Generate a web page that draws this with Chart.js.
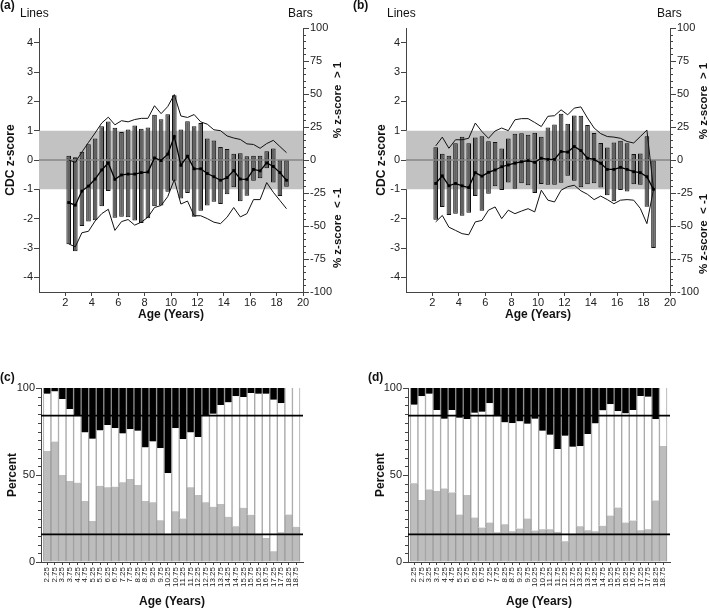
<!DOCTYPE html>
<html><head><meta charset="utf-8">
<script src="https://cdn.jsdelivr.net/npm/chart.js@4.4.0/dist/chart.umd.min.js"></script>
<style>
body{margin:0;width:709px;height:609px;background:#fff;position:relative;overflow:hidden;font-family:"Liberation Sans",Arial,sans-serif;color:#111}
canvas{position:absolute}
.lab{position:absolute;font-size:12px;line-height:14px;white-space:pre}
.b{font-weight:bold}
.rt{position:absolute;font-size:11.5px;font-weight:bold;line-height:13px;white-space:pre;transform:translate(-50%,-50%) rotate(-90deg)}
</style></head><body>
<canvas id="cA" width="354" height="322" style="left:0;top:0"></canvas>
<canvas id="cB" width="354" height="322" style="left:355px;top:0"></canvas>
<canvas id="cC" width="354" height="289" style="left:0;top:320px"></canvas>
<canvas id="cD" width="354" height="289" style="left:355px;top:320px"></canvas>

<div class="lab b" style="left:0;top:-2px">(a)</div>
<div class="lab" style="left:20px;top:6px">Lines</div>
<div class="lab" style="left:288px;top:6px">Bars</div>
<div class="rt" style="left:337px;top:100px">% z-score  &gt; 1</div>
<div class="rt" style="left:337px;top:228px">% z-score  &lt; -1</div>

<div class="lab b" style="left:353px;top:-2px">(b)</div>
<div class="lab" style="left:387px;top:6px">Lines</div>
<div class="lab" style="left:657px;top:6px">Bars</div>
<div class="rt" style="left:703px;top:101px">% z-score  &gt; 1</div>
<div class="rt" style="left:703px;top:234px">% z-score  &lt; -1</div>

<div class="lab b" style="left:0;top:370px">(c)</div>
<div class="lab b" style="left:368px;top:370px">(d)</div>

<script>
// ---------- data ----------
const ageLabels = ['2.25','2.75','3.25','3.75','4.25','4.75','5.25','5.75','6.25','6.75','7.25','7.75','8.25','8.75','9.25','9.75','10.25','10.75','11.25','11.75','12.25','12.75','13.25','13.75','14.25','14.75','15.25','15.75','16.25','16.75','17.25','17.75','18.25','18.75'];
const ages = ageLabels.map(Number);

// Sample (a)/(c): percent of children with z-score > 1 and < -1
const pctAboveA = [3.3,2,6.3,12,16.3,25.6,29.2,24.4,21.3,23.1,26.2,23.7,24.6,34.2,30.8,34.6,49,23.1,29.4,25.6,28.1,16.3,14.8,9.8,8.3,4.8,5.2,2.9,3.3,3.3,6.7,8.7,0,0];
const pctBelowA = [63.8,69.2,50,46.5,45.6,35,23.5,43.8,42.9,43.3,45.8,47.7,44.2,35,34.4,24,15.8,29.2,25,43,38.5,34.4,31.7,33.3,26,20.6,31.2,27.1,15.8,13.8,6.2,17.1,27.3,20.2];
// Sample (a): CDC z-score lines
const meanA  = [-1.45,-1.54,-1.06,-0.89,-0.65,-0.34,-0.10,-0.66,-0.51,-0.48,-0.48,-0.43,-0.41,0.07,-0.02,0.20,0.80,-0.18,0.13,-0.30,-0.30,-0.46,-0.57,-0.69,-0.60,-0.36,-0.65,-0.66,-0.32,-0.37,-0.10,-0.22,-0.43,-0.69];
const upperA = [0.0,-0.08,0.27,0.6,0.92,1.26,1.46,1.2,1.34,1.3,1.38,1.42,1.42,1.85,1.58,1.82,2.23,1.5,1.45,1.55,1.3,1.22,1.03,1.0,0.82,0.75,0.7,0.55,0.53,0.4,0.56,0.67,0.46,0.25];
const lowerA = [-2.86,-2.96,-2.48,-2.43,-2.08,-1.83,-1.68,-2.4,-2.1,-2.03,-2.22,-2.12,-1.95,-1.62,-1.55,-1.25,-0.67,-1.5,-1.4,-1.9,-1.9,-2.0,-2.12,-2.17,-1.95,-1.62,-1.94,-1.83,-1.35,-1.35,-0.77,-1.1,-1.38,-1.66];

// Sample (b)/(d)
const pctAboveB = [9.6,4.8,3.3,12.7,17.7,12.7,17.1,17.9,14.2,13.7,8.8,16.3,19.8,20.2,19.2,20.6,17.7,24.6,26.9,35,27.5,33.8,33.5,26.5,20.4,12.9,9.4,13.3,14.6,12.7,4.6,5,17.9,0];
const pctBelowB = [45.2,35.6,41.7,40.8,42.3,40,27.3,38.5,25.6,19.8,22.7,17.1,21.7,17.7,19.2,25,18.1,18.8,18.8,17.3,11.9,15.8,20.6,18.3,17.7,20.8,26.7,31.3,22.7,23.8,18.3,18.8,35.4,66.7];
const meanB  = [-0.8,-0.54,-0.88,-0.8,-0.88,-0.94,-0.43,-0.55,-0.42,-0.34,-0.23,-0.17,-0.11,-0.06,-0.02,-0.08,0.06,0.02,0.02,0.29,0.27,0.46,0.32,0.06,0.02,-0.11,-0.32,-0.32,-0.25,-0.32,-0.4,-0.43,-0.57,-1.0];
const upperB = [0.48,0.78,0.4,0.69,0.69,0.74,1.26,0.97,0.74,0.99,1.09,1.0,1.37,1.41,1.41,1.28,1.14,1.49,1.51,1.71,1.54,1.77,1.81,1.43,1.09,0.9,0.8,0.78,0.74,0.63,0.58,0.8,1.02,-1.0];
const lowerB = [-2.11,-1.89,-2.29,-2.4,-2.51,-2.55,-2.11,-2.06,-1.71,-1.6,-2.0,-1.71,-1.83,-1.74,-1.66,-1.77,-1.03,-1.37,-1.43,-1.03,-0.91,-0.86,-1.05,-1.17,-1.35,-1.23,-1.35,-1.49,-1.37,-1.35,-1.37,-1.65,-2.17,-1.0];

// axes / reference values
const zRange = [-4.5, 4.5];
const zTicks = [-4,-3,-2,-1,0,1,2,3,4];
const pctRange = [-100, 100];
const pctTicks = [-100,-75,-50,-25,0,25,50,75,100];
const ageRange = [0, 20];
const ageTicks = [2,4,6,8,10,12,14,16,18,20];
const band = [-1, 1];
const stackRange = [0, 100];
const stackTicks = [0, 50, 100];
const refLines = [15.9, 84.1];
const barAgeRange = [1.84, 19.2];

// ---------- styling ----------
const FONT = "'Liberation Sans', Arial, sans-serif";
Chart.defaults.font.family = FONT;
Chart.defaults.color = '#222';
const AX = '#444';

const minorTicks = {
  id: 'minorTicks',
  afterDraw(chart, args, opts) {
    const sp = opts && opts.spec; if (!sp) return;
    const s = chart.scales[sp.axis]; const ctx = chart.ctx;
    ctx.save(); ctx.strokeStyle = AX; ctx.lineWidth = 1;
    for (let v = s.min; v <= s.max + 1e-9; v += sp.step) {
      if (Math.abs(v % sp.major) < 1e-6) continue;
      const y = Math.round(s.getPixelForValue(v)) + 0.5;
      const x0 = sp.side === 'right' ? chart.chartArea.right : chart.chartArea.left;
      const x1 = sp.side === 'right' ? x0 + sp.len : x0 - sp.len;
      ctx.beginPath(); ctx.moveTo(x0, y); ctx.lineTo(x1, y); ctx.stroke();
    }
    ctx.restore();
  }
};

function xy(vals, xs) { return (xs || ages).map((a, i) => ({x: a, y: vals[i]})); }

function zPanel(id, above, below, mean, upper, lower, L) {
  const W = 354, H = 322;
  new Chart(document.getElementById(id), {
    type: 'bar',
    data: { datasets: [
      {type:'line', yAxisID:'y', data: ageRange.map(x => ({x, y: band[1]})), fill:'+1', backgroundColor:'#c2c2c2', borderColor:'rgba(0,0,0,0)', borderWidth:1, pointRadius:0, order:10},
      {type:'line', yAxisID:'y', data: ageRange.map(x => ({x, y: band[0]})), fill:false, borderColor:'rgba(0,0,0,0)', borderWidth:1, pointRadius:0, order:11},
      {type:'line', yAxisID:'y', data: ageRange.map(x => ({x, y: 0})), fill:false, borderColor:'#6a6a6a', borderWidth:1, pointRadius:0, order:9},
      {type:'bar', yAxisID:'y2', data: xy(above), backgroundColor:'#626262', borderColor:'#111', borderWidth:1, borderSkipped:false, grouped:false, barPercentage:0.7, categoryPercentage:1, order:5},
      {type:'bar', yAxisID:'y2', data: xy(below.map(v => -v)), backgroundColor:'#626262', borderColor:'#111', borderWidth:1, borderSkipped:false, grouped:false, barPercentage:0.7, categoryPercentage:1, order:5},
      {type:'line', yAxisID:'y', data: xy(upper), borderColor:'#111', borderWidth:1, pointRadius:0, fill:false, order:2},
      {type:'line', yAxisID:'y', data: xy(lower), borderColor:'#111', borderWidth:1, pointRadius:0, fill:false, order:2},
      {type:'line', yAxisID:'y', data: xy(mean), borderColor:'#000', borderWidth:1.3, pointRadius:2, pointStyle:'rect', pointBackgroundColor:'#000', pointBorderColor:'#000', pointBorderWidth:0, fill:false, order:1}
    ]},
    options: {
      responsive:false, animation:false,
      layout: {padding: {top:28, left:0, right:0, bottom:0}},
      plugins: {legend:{display:false}, tooltip:{enabled:false}, minorTicks:{spec:{axis:'y2', step:5, major:25, side:'right', len:3}}},
      scales: {
        x: {type:'linear', min:ageRange[0], max:ageRange[1], offset:false,
            afterBuildTicks: s => { s.ticks = ageTicks.map(v => ({value:v})); },
            ticks:{font:{size:11}, color:'#222', padding:0, maxRotation:0, autoSkip:false},
            grid:{drawOnChartArea:false, offset:false, tickLength:4, color:AX},
            border:{color:AX},
            title:{display:true, text:'Age (Years)', font:{size:12, weight:'bold'}, color:'#111', padding:0},
            afterFit: s => { s.height = H - 292; }},
        y: {type:'linear', position:'left', min:zRange[0], max:zRange[1],
            afterBuildTicks: s => { s.ticks = zTicks.map(v => ({value:v})); },
            ticks:{font:{size:11}, color:'#222', padding:1},
            grid:{drawOnChartArea:false, tickLength:5, color:AX},
            border:{color:AX},
            title:{display:true, text:'CDC z-score', font:{size:12, weight:'bold'}, color:'#111', padding:{top:L.titlePad, bottom:0}},
            afterFit: s => { s.width = L.left; }},
        y2: {type:'linear', position:'right', min:pctRange[0], max:pctRange[1],
            afterBuildTicks: s => { s.ticks = pctTicks.map(v => ({value:v})); },
            ticks:{font:{size:11}, color:'#222', padding:1},
            grid:{drawOnChartArea:false, tickLength:6, color:AX},
            border:{color:AX},
            afterFit: s => { s.width = W - L.right; }}
      }
    },
    plugins:[minorTicks]
  });
}

function stackPanel(id, above, below, L) {
  const W = 354, H = 289;
  const middle = ages.map((a, i) => 100 - above[i] - below[i]);
  new Chart(document.getElementById(id), {
    type: 'bar',
    data: { datasets: [
      {type:'bar', data: xy(below), backgroundColor:'#bdbdbd', borderColor:'#9c9c9c', borderWidth:{left:1,right:1,top:0,bottom:0}, borderSkipped:false, barPercentage:1, categoryPercentage:1, order:5},
      {type:'bar', data: xy(middle), backgroundColor:'#ffffff', borderColor:'#a8a8a8', borderWidth:{left:1,right:1,top:0,bottom:0}, borderSkipped:false, barPercentage:1, categoryPercentage:1, order:5},
      {type:'bar', data: xy(above), backgroundColor:'#000000', borderColor:'#8a8a8a', borderWidth:{left:1,right:1,top:0,bottom:0}, borderSkipped:false, barPercentage:1, categoryPercentage:1, order:5},
      {type:'line', yAxisID:'yl', data: barAgeRange.map(x => ({x, y: refLines[0]})), borderColor:'#000', borderWidth:1.6, pointRadius:0, fill:false, order:1},
      {type:'line', yAxisID:'yl', data: barAgeRange.map(x => ({x, y: refLines[1]})), borderColor:'#000', borderWidth:1.6, pointRadius:0, fill:false, order:1}
    ]},
    options: {
      responsive:false, animation:false,
      layout: {padding: {top:68, left:0, right:L.padRight, bottom:0}},
      plugins: {legend:{display:false}, tooltip:{enabled:false}, minorTicks:{spec:{axis:'y', step:5, major:50, side:'left', len:3}}},
      scales: {
        x: {type:'linear', min:barAgeRange[0], max:barAgeRange[1], offset:false, stacked:true,
            afterBuildTicks: s => { s.ticks = ages.map(v => ({value:v})); },
            ticks:{font:{size:8}, color:'#222', padding:2, minRotation:90, maxRotation:90, autoSkip:false,
                   callback: (v, i) => ageLabels[i]},
            grid:{drawOnChartArea:false, offset:false, tickLength:3, color:AX},
            border:{color:AX},
            title:{display:true, text:'Age (Years)', font:{size:12, weight:'bold'}, color:'#111', padding:0},
            afterFit: s => { s.height = H - 242; }},
        y: {type:'linear', position:'left', min:stackRange[0], max:stackRange[1], stacked:true,
            afterBuildTicks: s => { s.ticks = stackTicks.map(v => ({value:v})); },
            ticks:{font:{size:11}, color:'#222', padding:1},
            grid:{drawOnChartArea:false, tickLength:5, color:AX},
            border:{color:AX},
            title:{display:true, text:'Percent', font:{size:12, weight:'bold'}, color:'#111', padding:{top:L.titlePad, bottom:0}},
            afterFit: s => { s.width = L.left; }},
        yl: {type:'linear', display:false, min:stackRange[0], max:stackRange[1], stacked:false}
      }
    },
    plugins:[minorTicks]
  });
}

zPanel('cA', pctAboveA, pctBelowA, meanA, upperA, lowerA, {left:39, right:303, titlePad:3});
zPanel('cB', pctAboveB, pctBelowB, meanB, upperB, lowerB, {left:51, right:315, titlePad:19});
stackPanel('cC', pctAboveA, pctBelowA, {left:41, padRight:51, titlePad:5});
stackPanel('cD', pctAboveB, pctBelowB, {left:53, padRight:39, titlePad:18});
</script>
</body></html>
